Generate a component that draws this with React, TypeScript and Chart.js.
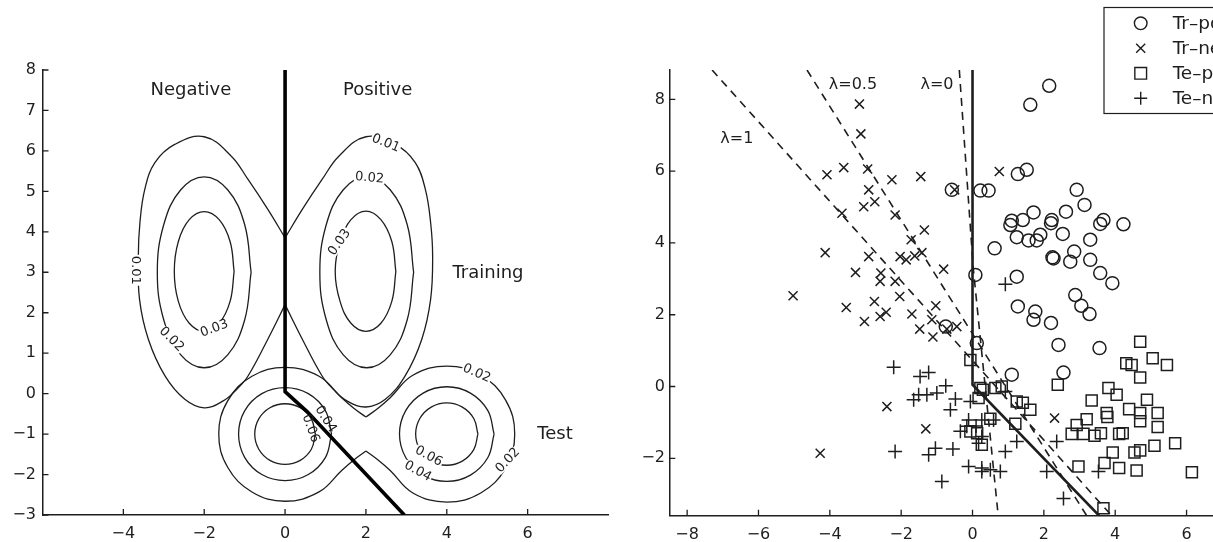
import React, { useEffect, useRef } from 'react';
import { Chart, registerables } from 'chart.js';

Chart.register(...registerables);

const FONT = '"DejaVu Sans", "Liberation Sans", Arial, sans-serif';
const INK = '#1e1e1e';

type P = [number, number];

// ================= LEFT PANEL (density contours) =================
const LEFT_X_RANGE: P = [-6, 8];
const LEFT_Y_RANGE: P = [-3, 8];
const LEFT_X_TICKS = [-4, -2, 0, 2, 4, 6];
const LEFT_Y_TICKS = [-3, -2, -1, 0, 1, 2, 3, 4, 5, 6, 7, 8];

// training density, level 0.01 (butterfly shaped, two lobes)
const TRAIN_001_RIGHT: P[] = [[0, 3.85], [0.43, 4.56], [0.92, 5.3], [1.33, 5.87], [2, 6.35], [2.73, 6.16], [3.22, 5.71], [3.47, 5.05], [3.6, 4.23], [3.65, 3.4], [3.6, 2.33], [3.38, 1.34], [2.97, 0.44], [2.48, -0.14], [2, -0.33], [1.53, -0.18], [1.2, 0.1], [0.92, 0.43], [0.43, 1.34], [0, 2.2]];
const TRAIN_001_LEFT: P[] = [[0, 2.2], [-0.43, 1.34], [-0.92, 0.43], [-1.2, 0.1], [-1.53, -0.18], [-2, -0.35], [-2.48, -0.14], [-2.97, 0.44], [-3.38, 1.34], [-3.6, 2.33], [-3.63, 3.4], [-3.59, 4.23], [-3.47, 5.05], [-3.22, 5.71], [-2.73, 6.16], [-2, 6.35], [-1.33, 5.87], [-0.92, 5.3], [-0.43, 4.56], [0, 3.85]];
// training density, level 0.02
const TRAIN_002_LEFT: P[] = [[-0.84, 3], [-1, 4.18], [-1.42, 5.04], [-2, 5.36], [-2.58, 5.04], [-3, 4.18], [-3.16, 3], [-3, 1.82], [-2.58, 0.96], [-2, 0.64], [-1.42, 0.96], [-1, 1.82], [-0.84, 3]];
const TRAIN_002_RIGHT: P[] = [[3.18, 3], [3.02, 4.18], [2.6, 5.04], [2.02, 5.37], [1.44, 5.04], [1.02, 4.18], [0.86, 3], [1.02, 1.82], [1.44, 0.96], [2.02, 0.64], [2.6, 0.96], [3.02, 1.82], [3.18, 3]];
// training density, level 0.03
const TRAIN_003_LEFT: P[] = [[-1.26, 3.02], [-1.36, 3.76], [-1.63, 4.3], [-2, 4.5], [-2.37, 4.3], [-2.64, 3.76], [-2.74, 3.02], [-2.64, 2.28], [-2.37, 1.74], [-2, 1.54], [-1.63, 1.74], [-1.36, 2.28], [-1.26, 3.02]];
const TRAIN_003_RIGHT: P[] = [[2.74, 3.02], [2.64, 3.76], [2.37, 4.3], [2, 4.51], [1.63, 4.3], [1.36, 3.76], [1.24, 3.02], [1.36, 2.28], [1.63, 1.74], [2, 1.54], [2.37, 1.74], [2.64, 2.28], [2.74, 3.02]];
// test density, level 0.02 (peanut around both test blobs)
const TEST_002_RIGHT: P[] = [[2, -0.58], [2.3, -0.36], [2.6, -0.1], [3.16, 0.455], [4, 0.68], [4.84, 0.455], [5.455, -0.16], [5.68, -1], [5.455, -1.84], [4.84, -2.455], [4, -2.68], [3.16, -2.455], [2.6, -1.9], [2.3, -1.64], [2, -1.42]];
const TEST_002_LEFT: P[] = [[2, -1.42], [1.7, -1.64], [1.4, -1.9], [0.84, -2.43], [0, -2.66], [-0.82, -2.43], [-1.42, -1.82], [-1.64, -1], [-1.42, -0.18], [-0.82, 0.43], [0, 0.65], [0.84, 0.43], [1.4, -0.1], [1.7, -0.36], [2, -0.58]];
// test density, level 0.04
const TEST_004_LEFT: P[] = [[1.15, -1], [1, -0.425], [0.575, 0], [0, 0.15], [-0.575, 0], [-1, -0.425], [-1.15, -1], [-1, -1.575], [-0.575, -2], [0, -2.15], [0.575, -2], [1, -1.575], [1.15, -1]];
const TEST_004_RIGHT: P[] = [[5.17, -1], [5.013, -0.415], [4.585, 0.013], [4, 0.17], [3.415, 0.013], [2.987, -0.415], [2.83, -1], [2.987, -1.585], [3.415, -2.013], [4, -2.17], [4.585, -2.013], [5.013, -1.585], [5.17, -1]];
// test density, level 0.06
const TEST_006_LEFT: P[] = [[0.75, -1], [0.65, -0.625], [0.375, -0.35], [0, -0.25], [-0.375, -0.35], [-0.65, -0.625], [-0.75, -1], [-0.65, -1.375], [-0.375, -1.65], [0, -1.75], [0.375, -1.65], [0.65, -1.375], [0.75, -1]];
const TEST_006_RIGHT: P[] = [[4.77, -1], [4.667, -0.615], [4.385, -0.333], [4, -0.23], [3.615, -0.333], [3.333, -0.615], [3.23, -1], [3.333, -1.385], [3.615, -1.667], [4, -1.77], [4.385, -1.667], [4.667, -1.385], [4.77, -1]];
// decision boundary
const LEFT_BOUNDARY: P[] = [[0, 8], [0, 0.05], [0.55, -0.45], [2.95, -3]];

const LEFT_TEXTS = [
  { text: 'Negative', x: -2.33, y: 7.37, align: 'center' },
  { text: 'Positive', x: 2.29, y: 7.37, align: 'center' },
  { text: 'Training', x: 4.14, y: 2.87, align: 'left' },
  { text: 'Test', x: 6.24, y: -1.13, align: 'left' },
];
// [label, x, y, angle(deg), knockout]
const CONTOUR_LABELS: [string, number, number, number, boolean][] = [
  ['0.01', -3.7, 3.05, 90, true],
  ['0.02', -2.81, 1.34, 45, true],
  ['0.03', -1.75, 1.61, -20, true],
  ['0.01', 2.49, 6.19, 22, true],
  ['0.02', 2.09, 5.33, 5, true],
  ['0.03', 1.35, 3.74, -55, true],
  ['0.02', 4.74, 0.5, 23, true],
  ['0.02', 5.51, -1.65, -47, true],
  ['0.06', 3.55, -1.55, 29, true],
  ['0.04', 3.28, -1.92, 29, true],
  ['0.04', 1.0, -0.63, 58, false],
  ['0.06', 0.63, -0.86, 70, false],
];

// ================= RIGHT PANEL (samples) =================
const RIGHT_X_RANGE: P = [-8.5, 8];
const RIGHT_Y_RANGE: P = [-3.6, 8.82];
const RIGHT_X_TICKS = [-8, -6, -4, -2, 0, 2, 4, 6];
const RIGHT_Y_TICKS = [-2, 0, 2, 4, 6, 8];

const TR_POS: P[] = [[2.15, 8.38], [1.62, 7.85], [1.27, 5.92], [1.52, 6.04], [0.22, 5.46], [0.45, 5.46], [-0.58, 5.48], [2.92, 5.48], [3.14, 5.06], [1.71, 4.85], [2.62, 4.87], [1.1, 4.62], [1.41, 4.64], [1.06, 4.5], [2.22, 4.64], [2.2, 4.55], [3.67, 4.64], [3.58, 4.53], [4.23, 4.52], [1.24, 4.16], [1.57, 4.07], [1.9, 4.23], [1.8, 4.07], [2.53, 4.25], [3.3, 4.09], [0.62, 3.85], [2.24, 3.6], [2.27, 3.57], [2.85, 3.76], [2.74, 3.48], [3.3, 3.53], [3.58, 3.16], [3.92, 2.88], [0.08, 3.11], [1.24, 3.06], [2.88, 2.55], [3.05, 2.25], [3.28, 2.02], [1.27, 2.23], [1.76, 2.09], [1.71, 1.86], [2.2, 1.77], [2.41, 1.16], [3.56, 1.07], [2.55, 0.39], [1.1, 0.33], [0.12, 1.21], [-0.75, 1.67]];
const TR_NEG: P[] = [[-3.17, 7.87], [-3.13, 7.04], [-3.61, 6.1], [-4.08, 5.9], [-2.94, 6.06], [-2.26, 5.76], [-1.45, 5.85], [-2.91, 5.48], [-3.05, 5.01], [-2.74, 5.15], [-3.66, 4.83], [-2.17, 4.78], [-1.35, 4.36], [-1.72, 4.09], [-1.42, 3.73], [-4.13, 3.73], [-2.91, 3.62], [-2.03, 3.62], [-1.86, 3.53], [-1.62, 3.64], [-0.81, 3.27], [-3.28, 3.18], [-2.57, 3.16], [-2.59, 2.93], [-2.17, 2.93], [-0.5, 5.48], [0.75, 5.99], [-5.03, 2.53], [-3.54, 2.2], [-2.75, 2.37], [-2.42, 2.07], [-2.59, 1.95], [-3.03, 1.81], [-2.04, 2.51], [-1.7, 2.02], [-1.03, 2.25], [-1.14, 1.86], [-1.48, 1.6], [-1.11, 1.38], [-0.72, 1.6], [-0.44, 1.67], [-2.4, -0.56], [-1.31, -1.18], [-4.27, -1.86], [2.3, -0.88]];
const TE_POS: P[] = [[4.7, 1.25], [5.05, 0.79], [5.45, 0.6], [4.31, 0.65], [4.46, 0.6], [4.7, 0.25], [3.81, -0.04], [4.04, -0.23], [3.34, -0.39], [4.89, -0.37], [4.39, -0.63], [4.7, -0.74], [5.19, -0.74], [3.76, -0.74], [3.78, -0.85], [3.2, -0.91], [2.92, -1.07], [4.7, -0.97], [5.19, -1.13], [2.78, -1.32], [3.11, -1.32], [3.42, -1.37], [3.6, -1.3], [4.11, -1.32], [4.21, -1.3], [5.68, -1.58], [5.1, -1.65], [4.54, -1.84], [4.7, -1.78], [3.93, -1.84], [3.7, -2.13], [4.11, -2.27], [4.6, -2.34], [6.15, -2.39], [2.97, -2.23], [2.39, 0.05], [1.62, -0.65], [1.41, -0.45], [1.24, -0.42], [1.2, -1.04], [0.5, -0.9], [0.22, -0.04], [0.64, -0.04], [0.26, -1.62], [0.82, 0.0], [-0.06, 0.74], [3.67, -3.39], [0.29, -0.09], [0.17, -0.32], [-0.06, -1.25], [0.13, -1.3]];
const TE_NEG: P[] = [[-2.21, 0.54], [-1.23, 0.39], [-1.47, 0.28], [-1.51, -0.23], [-1.65, -0.37], [-1.28, -0.23], [-1.0, -0.18], [-0.75, 0.02], [-0.48, -0.35], [-0.62, -0.65], [-2.17, -1.81], [-1.23, -1.9], [-1.04, -1.72], [-0.55, -1.74], [-0.86, -2.65], [-0.11, -2.23], [0.26, -2.37], [-0.34, -1.25], [-0.16, -1.11], [-0.11, -0.93], [0.17, -1.58], [-0.06, -0.42], [0.26, -1.39], [0.26, -2.27], [0.5, -2.32], [0.78, -2.37], [0.92, -1.81], [1.24, -1.53], [2.36, -1.53], [2.08, -2.37], [3.53, -2.37], [0.92, -0.14], [0.26, -0.93], [0.59, -0.93], [0.1, -1.1], [0.92, 2.85], [2.55, -3.12]];

const RIGHT_SOLID: P[] = [[0, 8.82], [0, 0.05], [3.55, -3.6]];
const LAMBDA_0: P[] = [[-0.37, 8.82], [0.02, 3.3], [0.72, -3.6]];
const LAMBDA_05: P[] = [[-4.64, 8.82], [3.2, -3.6]];
const LAMBDA_1: P[] = [[-7.3, 8.82], [3.9, -3.6]];

const RIGHT_TEXTS = [
  { text: 'λ=1', x: -7.07, y: 6.79 },
  { text: 'λ=0.5', x: -4.03, y: 8.28 },
  { text: 'λ=0', x: -1.46, y: 8.28 },
];
const LEGEND_LABELS = ['Tr–pos', 'Tr–neg', 'Te–pos', 'Te–neg'];
const LEGEND_STYLES = ['circle', 'crossRot', 'rect', 'cross'];

// ================= helpers =================
const fmt = (v: number) => (v < 0 ? '−' + Math.abs(v) : String(v));
const xy = (pts: P[]) => pts.map(([x, y]) => ({ x, y }));

function lineDs(pts: P[], width: number, extra: any = {}) {
  return {
    data: xy(pts),
    showLine: true,
    borderColor: INK,
    borderWidth: width,
    pointRadius: 0,
    pointHoverRadius: 0,
    tension: 0.4,
    fill: false,
    ...extra,
  };
}

function markerDs(pts: P[], style: string, radius: number) {
  return {
    data: xy(pts),
    showLine: false,
    pointStyle: style,
    pointRadius: radius,
    pointHoverRadius: radius,
    pointBorderColor: INK,
    pointBackgroundColor: 'rgba(0,0,0,0)',
    pointBorderWidth: 1.5,
    borderColor: INK,
    backgroundColor: 'rgba(0,0,0,0)',
  };
}

function scales(xr: P, yr: P, xt: number[], yt: number[], yWidth: number, xHeight: number, yPad: number, xPad: number) {
  const common = {
    type: 'linear',
    grid: { display: true, drawOnChartArea: false, drawTicks: false },
    border: { display: true, color: INK, width: 1.5 },
  };
  return {
    x: {
      ...common,
      position: 'bottom',
      min: xr[0],
      max: xr[1],
      afterBuildTicks: (s: any) => { s.ticks = xt.map((v) => ({ value: v })); },
      afterFit: (s: any) => { s.height = xHeight; },
      ticks: { color: INK, font: { family: FONT, size: 16 }, padding: xPad, maxRotation: 0, autoSkip: false, callback: (v: any) => fmt(Number(v)) },
    },
    y: {
      ...common,
      position: 'left',
      min: yr[0],
      max: yr[1],
      afterBuildTicks: (s: any) => { s.ticks = yt.map((v) => ({ value: v })); },
      afterFit: (s: any) => { s.width = yWidth; },
      ticks: { color: INK, font: { family: FONT, size: 16 }, padding: yPad, autoSkip: false, callback: (v: any) => fmt(Number(v)) },
    },
  };
}

const inwardTicks = {
  id: 'inwardTicks',
  afterDraw(chart: any) {
    const { ctx, chartArea, scales: sc } = chart;
    ctx.save();
    ctx.strokeStyle = INK;
    ctx.lineWidth = 1.3;
    ctx.beginPath();
    sc.x.ticks.forEach((t: any) => {
      const px = sc.x.getPixelForValue(t.value);
      ctx.moveTo(px, chartArea.bottom);
      ctx.lineTo(px, chartArea.bottom - 6);
    });
    sc.y.ticks.forEach((t: any) => {
      const py = sc.y.getPixelForValue(t.value);
      ctx.moveTo(chartArea.left, py);
      ctx.lineTo(chartArea.left + 6, py);
    });
    ctx.stroke();
    ctx.restore();
  },
};

function drawMarker(ctx: CanvasRenderingContext2D, style: string, x: number, y: number, r: number) {
  ctx.beginPath();
  if (style === 'circle') {
    ctx.arc(x, y, r, 0, Math.PI * 2);
  } else if (style === 'rect') {
    const s = r * Math.SQRT1_2;
    ctx.rect(x - s, y - s, 2 * s, 2 * s);
  } else if (style === 'cross') {
    ctx.moveTo(x - r, y); ctx.lineTo(x + r, y);
    ctx.moveTo(x, y - r); ctx.lineTo(x, y + r);
  } else {
    const o = r * Math.SQRT1_2;
    ctx.moveTo(x - o, y - o); ctx.lineTo(x + o, y + o);
    ctx.moveTo(x - o, y + o); ctx.lineTo(x + o, y - o);
  }
  ctx.stroke();
}

const leftTextPlugin = {
  id: 'leftText',
  afterDatasetsDraw(chart: any) {
    const { ctx, scales: sc } = chart;
    ctx.save();
    ctx.fillStyle = INK;
    ctx.font = `18px ${FONT}`;
    ctx.textBaseline = 'alphabetic';
    LEFT_TEXTS.forEach((t) => {
      ctx.textAlign = t.align as CanvasTextAlign;
      ctx.fillText(t.text, sc.x.getPixelForValue(t.x), sc.y.getPixelForValue(t.y));
    });
    ctx.font = `13px ${FONT}`;
    ctx.textAlign = 'center';
    ctx.textBaseline = 'middle';
    CONTOUR_LABELS.forEach(([label, x, y, ang, knock]) => {
      ctx.save();
      ctx.translate(sc.x.getPixelForValue(x), sc.y.getPixelForValue(y));
      ctx.rotate((ang * Math.PI) / 180);
      if (knock) {
        const w = ctx.measureText(label).width;
        ctx.fillStyle = '#fff';
        ctx.fillRect(-w / 2 - 1, -5, w + 2, 10);
      }
      ctx.fillStyle = INK;
      ctx.fillText(label, 0, 0);
      ctx.restore();
    });
    ctx.restore();
  },
};

const rightTextPlugin = {
  id: 'rightText',
  afterDraw(chart: any) {
    const { ctx, scales: sc } = chart;
    ctx.save();
    ctx.fillStyle = INK;
    ctx.font = `16px ${FONT}`;
    ctx.textAlign = 'left';
    ctx.textBaseline = 'alphabetic';
    RIGHT_TEXTS.forEach((t) => {
      ctx.fillText(t.text, sc.x.getPixelForValue(t.x), sc.y.getPixelForValue(t.y));
    });
    // legend box (extends past the right edge of the picture)
    ctx.fillStyle = '#fff';
    ctx.fillRect(484, 7.5, 400, 106);
    ctx.strokeStyle = INK;
    ctx.lineWidth = 1.2;
    ctx.strokeRect(484, 7.5, 400, 106);
    ctx.font = `18.5px ${FONT}`;
    ctx.textBaseline = 'middle';
    const radii: Record<string, number> = { circle: 6.3, crossRot: 6.4, rect: 8.3, cross: 6.5 };
    LEGEND_LABELS.forEach((lab, i) => {
      const yy = 23.3 + 25 * i;
      ctx.lineWidth = 1.4;
      drawMarker(ctx, LEGEND_STYLES[i], 520.7, yy, radii[LEGEND_STYLES[i]]);
      ctx.fillStyle = INK;
      ctx.fillText(lab, 552.7, yy + 1);
    });
    ctx.restore();
  },
};

function baseOptions(padding: any, sc: any) {
  return {
    responsive: false,
    maintainAspectRatio: false,
    animation: false,
    layout: { padding },
    plugins: { legend: { display: false }, tooltip: { enabled: false }, title: { display: false } },
    events: [],
    scales: sc,
  };
}

export default function App() {
  const leftRef = useRef<HTMLCanvasElement>(null);
  const rightRef = useRef<HTMLCanvasElement>(null);

  useEffect(() => {
    const left = new Chart(leftRef.current as HTMLCanvasElement, {
      type: 'scatter',
      data: {
        datasets: [
          lineDs(LEFT_BOUNDARY, 3.6, { tension: 0, borderColor: '#000' }),
          lineDs(TRAIN_001_RIGHT, 1.3),
          lineDs(TRAIN_001_LEFT, 1.3),
          lineDs(TRAIN_002_LEFT, 1.3),
          lineDs(TRAIN_002_RIGHT, 1.3),
          lineDs(TRAIN_003_LEFT, 1.3),
          lineDs(TRAIN_003_RIGHT, 1.3),
          lineDs(TEST_002_RIGHT, 1.3),
          lineDs(TEST_002_LEFT, 1.3),
          lineDs(TEST_004_LEFT, 1.3),
          lineDs(TEST_004_RIGHT, 1.3),
          lineDs(TEST_006_LEFT, 1.3),
          lineDs(TEST_006_RIGHT, 1.3),
        ] as any,
      },
      options: baseOptions({ top: 70, left: 0, right: 11.5, bottom: 0 },
        scales(LEFT_X_RANGE, LEFT_Y_RANGE, LEFT_X_TICKS, LEFT_Y_TICKS, 42.5, 27, 6.5, 9)) as any,
      plugins: [inwardTicks, leftTextPlugin],
    });

    const right = new Chart(rightRef.current as HTMLCanvasElement, {
      type: 'scatter',
      data: {
        datasets: [
          markerDs(TR_POS, 'circle', 6.5),
          markerDs(TR_NEG, 'crossRot', 6.4),
          markerDs(TE_POS, 'rect', 7.8),
          markerDs(TE_NEG, 'cross', 7),
          lineDs(RIGHT_SOLID, 2.6, { tension: 0 }),
          lineDs(LAMBDA_0, 1.6, { tension: 0, borderDash: [8, 6] }),
          lineDs(LAMBDA_05, 1.6, { tension: 0, borderDash: [8, 6] }),
          lineDs(LAMBDA_1, 1.6, { tension: 0, borderDash: [8, 6] }),
        ] as any,
      },
      options: baseOptions({ top: 70, left: 0, right: 62.1, bottom: 0 },
        scales(RIGHT_X_RANGE, RIGHT_Y_RANGE, RIGHT_X_TICKS, RIGHT_Y_TICKS, 49.3, 26.3, 4.3, 10)) as any,
      plugins: [inwardTicks, rightTextPlugin],
    });

    return () => {
      left.destroy();
      right.destroy();
    };
  }, []);

  return (
    <div style={{ position: 'absolute', left: 0, top: 0, width: 1213, height: 542, overflow: 'hidden', background: '#fff' }}>
      <canvas ref={leftRef} width={620} height={542} style={{ position: 'absolute', left: 0, top: 0, width: 620, height: 542 }} />
      <canvas ref={rightRef} width={700} height={542} style={{ position: 'absolute', left: 620, top: 0, width: 700, height: 542 }} />
    </div>
  );
}
